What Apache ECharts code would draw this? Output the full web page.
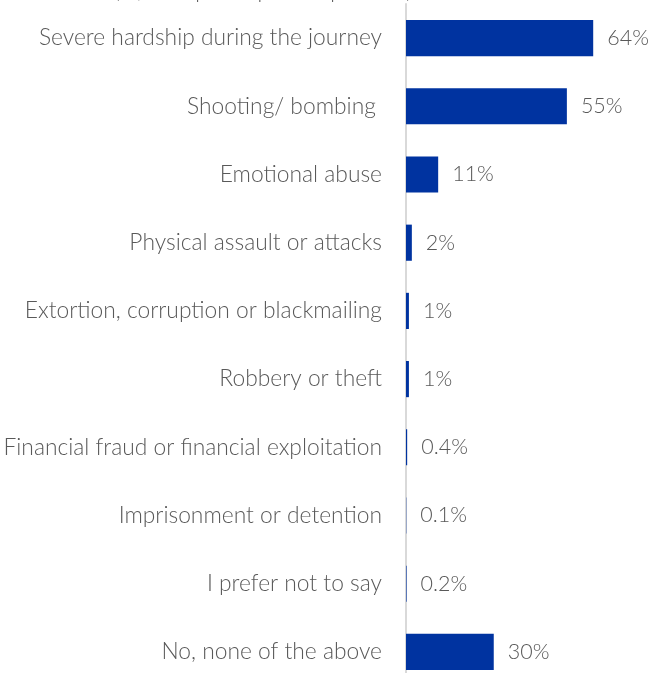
<!DOCTYPE html>
<html><head><meta charset="utf-8">
<script src="https://cdn.jsdelivr.net/npm/echarts@6/dist/echarts.min.js"></script>
<style>html,body{margin:0;padding:0;background:#fff}#c{width:651px;height:673px}</style>
</head><body><div id="c"></div>
<script>
const categories = [
  "Severe hardship during the journey",
  "Shooting/ bombing ",
  "Emotional abuse",
  "Physical assault or attacks",
  "Extortion, corruption or blackmailing",
  "Robbery or theft",
  "Financial fraud or financial exploitation",
  "Imprisonment or detention",
  "I prefer not to say",
  "No, none of the above"
];
const values = [64, 55, 11, 2, 1, 1, 0.4, 0.1, 0.2, 30];
const subtitle = "(%, multiple responses possible)";

const chart = echarts.init(document.getElementById('c'));
chart.setOption({
  animation: false,
  title: {
    text: subtitle, left: 258, top: -25, textAlign: 'center',
    textStyle: {color: '#595959', fontSize: 22, fontWeight: 300, fontFamily: 'Lato'}
  },
  grid: {left: 406, width: 234, top: 4, height: 682, containLabel: false, outerBoundsMode: 'none'},
  xAxis: {type: 'value', min: 0, max: 80, show: false},
  yAxis: {
    type: 'category', data: categories, inverse: true,
    axisLine: {show: true, lineStyle: {color: '#d9d9d9', width: 2}},
    axisTick: {show: false},
    axisLabel: {color: '#595959', fontSize: 22.8, fontWeight: 300, fontFamily: 'Lato', margin: 24}
  },
  series: [{
    type: 'bar', data: values, barWidth: '53%',
    itemStyle: {color: '#0033a0'},
    label: {show: true, position: 'right', distance: 14, color: '#595959', fontSize: 21.5, fontWeight: 300, fontFamily: 'Lato',
      formatter: p => p.value + '%'}
  }]
});
</script></body></html>
